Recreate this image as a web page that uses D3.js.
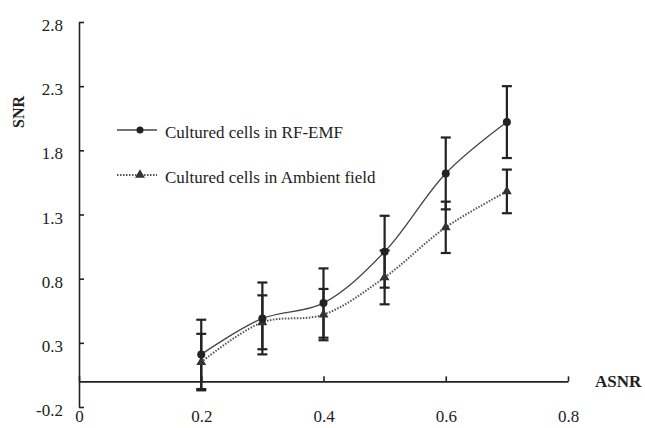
<!DOCTYPE html>
<html>
<head>
<meta charset="utf-8">
<script src="https://cdn.jsdelivr.net/npm/d3@7"></script>
</head>
<body style="margin:0;background:#fff">
<script>
const asnr = [0.2, 0.3, 0.4, 0.5, 0.6, 0.7]
const rfEmf = [0.21, 0.49, 0.61, 1.01, 1.62, 2.02]
const rfEmfErr = [0.27, 0.28, 0.27, 0.28, 0.28, 0.28]
const ambient = [0.15, 0.46, 0.52, 0.81, 1.2, 1.48]
const ambientErr = [0.22, 0.21, 0.2, 0.21, 0.2, 0.17]
const yTicks = [-0.2, 0.3, 0.8, 1.3, 1.8, 2.3, 2.8]
const xTicks = [0, 0.2, 0.4, 0.6, 0.8]
const seriesNames = ['Cultured cells in RF-EMF', 'Cultured cells in Ambient field']

const width = 645
const height = 428
const serif = '"Liberation Serif"'

const svg = d3.select('body')
  .append('svg')
  .attr('width', width)
  .attr('height', height)
  .style('display', 'block')

const yScale = d3.scaleLinear().domain([-0.2, 2.8]).range([407, 22])
const xScale = d3.scaleLinear().domain([0, 0.8]).range([79, 568])

// y axis, ticks pointing inward
const yAxis = svg.append('g')
  .attr('transform', `translate(${xScale(0)},0)`)
  .call(d3.axisLeft(yScale).tickValues(yTicks).tickSizeInner(-5).tickSizeOuter(0).tickPadding(16)
    .tickFormat(d => d.toFixed(1)))
yAxis.select('.domain').attr('stroke', '#222').attr('stroke-width', 1.6)
yAxis.selectAll('.tick line').attr('stroke', '#222').attr('stroke-width', 1.6)
yAxis.selectAll('text')
  .style('font-family', serif).style('font-size', '17px')
  .attr('dy', '0.5em').attr('fill', '#222')

// x axis at y = 0, ticks pointing up
const xAxis = svg.append('g')
  .attr('transform', `translate(0,${yScale(0)})`)
  .call(d3.axisBottom(xScale).tickValues(xTicks).tickSizeInner(-5).tickSizeOuter(0).tickPadding(29)
    .tickFormat(d => d === 0 ? '0' : d.toFixed(1)))
xAxis.select('.domain').attr('stroke', '#222').attr('stroke-width', 1.6)
xAxis.selectAll('.tick line').attr('stroke', '#222').attr('stroke-width', 1.6)
xAxis.selectAll('text')
  .style('font-family', serif).style('font-size', '17px')
  .attr('fill', '#222')

svg.append('text')
  .attr('x', 595).attr('y', yScale(0) + 6)
  .style('font-family', serif).style('font-size', '17px').style('font-weight', 'bold')
  .attr('fill', '#222')
  .text('ASNR')

svg.append('text')
  .attr('transform', 'translate(24,112) rotate(-90)')
  .attr('text-anchor', 'middle')
  .style('font-family', serif).style('font-size', '16px').style('font-weight', 'bold')
  .attr('fill', '#222')
  .text('SNR')

const line = d3.line()
  .x((d, i) => xScale(asnr[i]))
  .y(d => yScale(d))
  .curve(d3.curveCatmullRom)

svg.append('path')
  .datum(rfEmf)
  .attr('d', line)
  .attr('fill', 'none')
  .attr('stroke', '#444')
  .attr('stroke-width', 1.3)

svg.append('path')
  .datum(ambient)
  .attr('d', line)
  .attr('fill', 'none')
  .attr('stroke', '#555')
  .attr('stroke-width', 2)
  .attr('stroke-dasharray', '1.5,1.5')

function errorBars (vals, errs) {
  const g = svg.append('g').attr('stroke', '#222').attr('stroke-width', 2.2)
  const rows = vals.map((v, i) => ({ x: asnr[i], lo: v - errs[i], hi: v + errs[i] }))
  g.selectAll('line.v').data(rows).enter().append('line')
    .attr('x1', d => xScale(d.x)).attr('x2', d => xScale(d.x))
    .attr('y1', d => yScale(d.lo)).attr('y2', d => yScale(d.hi))
  g.selectAll('line.hi').data(rows).enter().append('line')
    .attr('x1', d => xScale(d.x) - 5).attr('x2', d => xScale(d.x) + 5)
    .attr('y1', d => yScale(d.hi)).attr('y2', d => yScale(d.hi))
  g.selectAll('line.lo').data(rows).enter().append('line')
    .attr('x1', d => xScale(d.x) - 5).attr('x2', d => xScale(d.x) + 5)
    .attr('y1', d => yScale(d.lo)).attr('y2', d => yScale(d.lo))
}
errorBars(rfEmf, rfEmfErr)
errorBars(ambient, ambientErr)

const tri = d3.symbol().type(d3.symbolTriangle).size(42)

svg.append('g')
  .selectAll('path')
  .data(ambient)
  .enter()
  .append('path')
  .attr('d', tri)
  .attr('transform', (d, i) => `translate(${xScale(asnr[i])},${yScale(d)})`)
  .attr('fill', '#333')

svg.append('g')
  .selectAll('circle')
  .data(rfEmf)
  .enter()
  .append('circle')
  .attr('cx', (d, i) => xScale(asnr[i]))
  .attr('cy', d => yScale(d))
  .attr('r', 4)
  .attr('fill', '#222')

// legend
const legend = svg.append('g')
const rows = [0, 1]
legend.selectAll('line')
  .data(rows)
  .enter()
  .append('line')
  .attr('x1', 117).attr('x2', 157)
  .attr('y1', d => 130 + d * 45).attr('y2', d => 130 + d * 45)
  .attr('stroke', d => d ? '#555' : '#444')
  .attr('stroke-width', d => d ? 2 : 1.3)
  .attr('stroke-dasharray', d => d ? '1.5,1.5' : null)
legend.append('circle').attr('cx', 140).attr('cy', 130).attr('r', 3.5).attr('fill', '#222')
legend.append('path').attr('d', tri).attr('transform', 'translate(140,175)').attr('fill', '#333')
legend.selectAll('text')
  .data(seriesNames)
  .enter()
  .append('text')
  .attr('x', 165)
  .attr('y', (d, i) => 138 + i * 45)
  .style('font-family', serif).style('font-size', '17px')
  .attr('fill', '#222')
  .text(d => d)
</script>
</body>
</html>
